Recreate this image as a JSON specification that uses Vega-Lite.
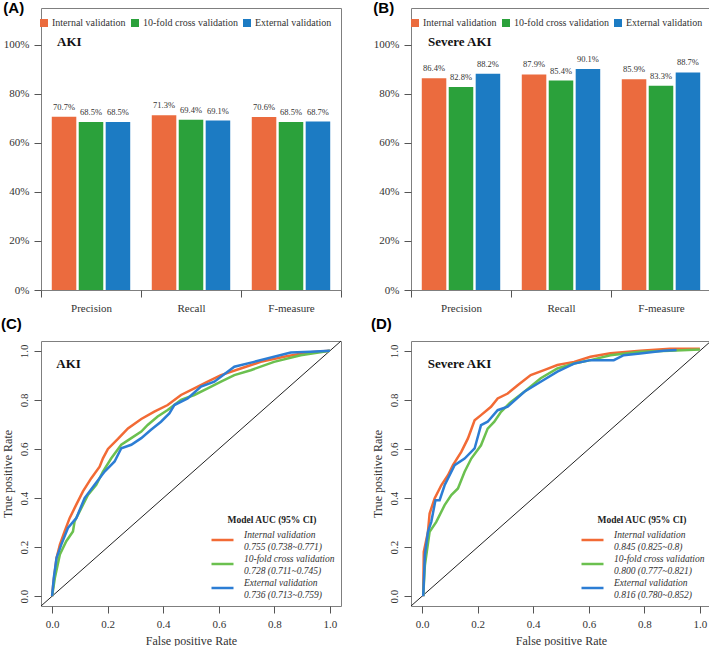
{
  "$schema": "https://vega.github.io/schema/vega-lite/v6.json",
  "padding": {"left": 0, "top": 0, "right": 0, "bottom": 0},
  "background": "white",
  "config": {
    "font": "Liberation Serif",
    "view": {"stroke": "#7f7f7f", "strokeWidth": 1},
    "axis": {"labelFont": "Liberation Serif", "titleFont": "Liberation Serif", "labelColor": "#333333", "titleColor": "#333333", "tickColor": "#555555", "grid": false, "tickSize": 7, "labelFontSize": 11, "titleFontWeight": "normal", "domain": false, "labelFlush": false, "labelOverlap": false},
    "title": {"font": "Liberation Sans", "fontWeight": "bold", "fontSize": 15, "anchor": "start", "frame": "bounds", "color": "#000000"}
  },
  "datasets": {
    "bars": [
      {"panel": "AKI", "metric": "Precision", "series": "Internal validation", "value": 0.707},
      {"panel": "AKI", "metric": "Precision", "series": "10-fold cross validation", "value": 0.685},
      {"panel": "AKI", "metric": "Precision", "series": "External validation", "value": 0.685},
      {"panel": "AKI", "metric": "Recall", "series": "Internal validation", "value": 0.713},
      {"panel": "AKI", "metric": "Recall", "series": "10-fold cross validation", "value": 0.694},
      {"panel": "AKI", "metric": "Recall", "series": "External validation", "value": 0.691},
      {"panel": "AKI", "metric": "F-measure", "series": "Internal validation", "value": 0.706},
      {"panel": "AKI", "metric": "F-measure", "series": "10-fold cross validation", "value": 0.685},
      {"panel": "AKI", "metric": "F-measure", "series": "External validation", "value": 0.687},
      {"panel": "Severe AKI", "metric": "Precision", "series": "Internal validation", "value": 0.864},
      {"panel": "Severe AKI", "metric": "Precision", "series": "10-fold cross validation", "value": 0.828},
      {"panel": "Severe AKI", "metric": "Precision", "series": "External validation", "value": 0.882},
      {"panel": "Severe AKI", "metric": "Recall", "series": "Internal validation", "value": 0.879},
      {"panel": "Severe AKI", "metric": "Recall", "series": "10-fold cross validation", "value": 0.854},
      {"panel": "Severe AKI", "metric": "Recall", "series": "External validation", "value": 0.901},
      {"panel": "Severe AKI", "metric": "F-measure", "series": "Internal validation", "value": 0.859},
      {"panel": "Severe AKI", "metric": "F-measure", "series": "10-fold cross validation", "value": 0.833},
      {"panel": "Severe AKI", "metric": "F-measure", "series": "External validation", "value": 0.887}
    ],
    "rocC": [
      {"s": "Internal validation|0.755 (0.738~0.771)", "fpr": 0, "tpr": 0},
      {"s": "Internal validation|0.755 (0.738~0.771)", "fpr": 0.004, "tpr": 0.047},
      {"s": "Internal validation|0.755 (0.738~0.771)", "fpr": 0.016, "tpr": 0.156},
      {"s": "Internal validation|0.755 (0.738~0.771)", "fpr": 0.028, "tpr": 0.21},
      {"s": "Internal validation|0.755 (0.738~0.771)", "fpr": 0.045, "tpr": 0.264},
      {"s": "Internal validation|0.755 (0.738~0.771)", "fpr": 0.063, "tpr": 0.318},
      {"s": "Internal validation|0.755 (0.738~0.771)", "fpr": 0.087, "tpr": 0.373},
      {"s": "Internal validation|0.755 (0.738~0.771)", "fpr": 0.111, "tpr": 0.427},
      {"s": "Internal validation|0.755 (0.738~0.771)", "fpr": 0.141, "tpr": 0.481},
      {"s": "Internal validation|0.755 (0.738~0.771)", "fpr": 0.171, "tpr": 0.528},
      {"s": "Internal validation|0.755 (0.738~0.771)", "fpr": 0.183, "tpr": 0.562},
      {"s": "Internal validation|0.755 (0.738~0.771)", "fpr": 0.201, "tpr": 0.6},
      {"s": "Internal validation|0.755 (0.738~0.771)", "fpr": 0.237, "tpr": 0.641},
      {"s": "Internal validation|0.755 (0.738~0.771)", "fpr": 0.273, "tpr": 0.684},
      {"s": "Internal validation|0.755 (0.738~0.771)", "fpr": 0.321, "tpr": 0.722},
      {"s": "Internal validation|0.755 (0.738~0.771)", "fpr": 0.368, "tpr": 0.752},
      {"s": "Internal validation|0.755 (0.738~0.771)", "fpr": 0.416, "tpr": 0.779},
      {"s": "Internal validation|0.755 (0.738~0.771)", "fpr": 0.464, "tpr": 0.82},
      {"s": "Internal validation|0.755 (0.738~0.771)", "fpr": 0.512, "tpr": 0.847},
      {"s": "Internal validation|0.755 (0.738~0.771)", "fpr": 0.56, "tpr": 0.874},
      {"s": "Internal validation|0.755 (0.738~0.771)", "fpr": 0.608, "tpr": 0.901},
      {"s": "Internal validation|0.755 (0.738~0.771)", "fpr": 0.679, "tpr": 0.928},
      {"s": "Internal validation|0.755 (0.738~0.771)", "fpr": 0.751, "tpr": 0.955},
      {"s": "Internal validation|0.755 (0.738~0.771)", "fpr": 0.835, "tpr": 0.976},
      {"s": "Internal validation|0.755 (0.738~0.771)", "fpr": 0.919, "tpr": 0.993},
      {"s": "Internal validation|0.755 (0.738~0.771)", "fpr": 1, "tpr": 1},
      {"s": "10-fold cross validation|0.728 (0.711~0.745)", "fpr": 0, "tpr": 0},
      {"s": "10-fold cross validation|0.728 (0.711~0.745)", "fpr": 0.01, "tpr": 0.075},
      {"s": "10-fold cross validation|0.728 (0.711~0.745)", "fpr": 0.028, "tpr": 0.17},
      {"s": "10-fold cross validation|0.728 (0.711~0.745)", "fpr": 0.051, "tpr": 0.224},
      {"s": "10-fold cross validation|0.728 (0.711~0.745)", "fpr": 0.075, "tpr": 0.264},
      {"s": "10-fold cross validation|0.728 (0.711~0.745)", "fpr": 0.081, "tpr": 0.305},
      {"s": "10-fold cross validation|0.728 (0.711~0.745)", "fpr": 0.105, "tpr": 0.359},
      {"s": "10-fold cross validation|0.728 (0.711~0.745)", "fpr": 0.129, "tpr": 0.413},
      {"s": "10-fold cross validation|0.728 (0.711~0.745)", "fpr": 0.159, "tpr": 0.454},
      {"s": "10-fold cross validation|0.728 (0.711~0.745)", "fpr": 0.183, "tpr": 0.508},
      {"s": "10-fold cross validation|0.728 (0.711~0.745)", "fpr": 0.213, "tpr": 0.562},
      {"s": "10-fold cross validation|0.728 (0.711~0.745)", "fpr": 0.249, "tpr": 0.617},
      {"s": "10-fold cross validation|0.728 (0.711~0.745)", "fpr": 0.285, "tpr": 0.644},
      {"s": "10-fold cross validation|0.728 (0.711~0.745)", "fpr": 0.321, "tpr": 0.671},
      {"s": "10-fold cross validation|0.728 (0.711~0.745)", "fpr": 0.344, "tpr": 0.698},
      {"s": "10-fold cross validation|0.728 (0.711~0.745)", "fpr": 0.38, "tpr": 0.732},
      {"s": "10-fold cross validation|0.728 (0.711~0.745)", "fpr": 0.416, "tpr": 0.759},
      {"s": "10-fold cross validation|0.728 (0.711~0.745)", "fpr": 0.464, "tpr": 0.8},
      {"s": "10-fold cross validation|0.728 (0.711~0.745)", "fpr": 0.512, "tpr": 0.82},
      {"s": "10-fold cross validation|0.728 (0.711~0.745)", "fpr": 0.56, "tpr": 0.847},
      {"s": "10-fold cross validation|0.728 (0.711~0.745)", "fpr": 0.608, "tpr": 0.874},
      {"s": "10-fold cross validation|0.728 (0.711~0.745)", "fpr": 0.656, "tpr": 0.901},
      {"s": "10-fold cross validation|0.728 (0.711~0.745)", "fpr": 0.715, "tpr": 0.921},
      {"s": "10-fold cross validation|0.728 (0.711~0.745)", "fpr": 0.799, "tpr": 0.955},
      {"s": "10-fold cross validation|0.728 (0.711~0.745)", "fpr": 0.895, "tpr": 0.982},
      {"s": "10-fold cross validation|0.728 (0.711~0.745)", "fpr": 1, "tpr": 1},
      {"s": "External validation|0.736 (0.713~0.759)", "fpr": 0, "tpr": 0},
      {"s": "External validation|0.736 (0.713~0.759)", "fpr": 0.006, "tpr": 0.075},
      {"s": "External validation|0.736 (0.713~0.759)", "fpr": 0.016, "tpr": 0.156},
      {"s": "External validation|0.736 (0.713~0.759)", "fpr": 0.033, "tpr": 0.21},
      {"s": "External validation|0.736 (0.713~0.759)", "fpr": 0.057, "tpr": 0.278},
      {"s": "External validation|0.736 (0.713~0.759)", "fpr": 0.087, "tpr": 0.318},
      {"s": "External validation|0.736 (0.713~0.759)", "fpr": 0.117, "tpr": 0.4},
      {"s": "External validation|0.736 (0.713~0.759)", "fpr": 0.153, "tpr": 0.454},
      {"s": "External validation|0.736 (0.713~0.759)", "fpr": 0.189, "tpr": 0.508},
      {"s": "External validation|0.736 (0.713~0.759)", "fpr": 0.225, "tpr": 0.549},
      {"s": "External validation|0.736 (0.713~0.759)", "fpr": 0.249, "tpr": 0.603},
      {"s": "External validation|0.736 (0.713~0.759)", "fpr": 0.285, "tpr": 0.617},
      {"s": "External validation|0.736 (0.713~0.759)", "fpr": 0.321, "tpr": 0.644},
      {"s": "External validation|0.736 (0.713~0.759)", "fpr": 0.356, "tpr": 0.678},
      {"s": "External validation|0.736 (0.713~0.759)", "fpr": 0.392, "tpr": 0.711},
      {"s": "External validation|0.736 (0.713~0.759)", "fpr": 0.422, "tpr": 0.745},
      {"s": "External validation|0.736 (0.713~0.759)", "fpr": 0.44, "tpr": 0.779},
      {"s": "External validation|0.736 (0.713~0.759)", "fpr": 0.488, "tpr": 0.806},
      {"s": "External validation|0.736 (0.713~0.759)", "fpr": 0.536, "tpr": 0.854},
      {"s": "External validation|0.736 (0.713~0.759)", "fpr": 0.584, "tpr": 0.874},
      {"s": "External validation|0.736 (0.713~0.759)", "fpr": 0.656, "tpr": 0.935},
      {"s": "External validation|0.736 (0.713~0.759)", "fpr": 0.727, "tpr": 0.955},
      {"s": "External validation|0.736 (0.713~0.759)", "fpr": 0.799, "tpr": 0.976},
      {"s": "External validation|0.736 (0.713~0.759)", "fpr": 0.859, "tpr": 0.993},
      {"s": "External validation|0.736 (0.713~0.759)", "fpr": 0.931, "tpr": 0.996},
      {"s": "External validation|0.736 (0.713~0.759)", "fpr": 1, "tpr": 1}
    ],
    "rocD": [
      {"s": "Internal validation|0.845 (0.825~0.8)", "fpr": 0.004, "tpr": 0},
      {"s": "Internal validation|0.845 (0.825~0.8)", "fpr": 0.006, "tpr": 0.181},
      {"s": "Internal validation|0.845 (0.825~0.8)", "fpr": 0.021, "tpr": 0.262},
      {"s": "Internal validation|0.845 (0.825~0.8)", "fpr": 0.027, "tpr": 0.337},
      {"s": "Internal validation|0.845 (0.825~0.8)", "fpr": 0.045, "tpr": 0.398},
      {"s": "Internal validation|0.845 (0.825~0.8)", "fpr": 0.069, "tpr": 0.452},
      {"s": "Internal validation|0.845 (0.825~0.8)", "fpr": 0.093, "tpr": 0.493},
      {"s": "Internal validation|0.845 (0.825~0.8)", "fpr": 0.111, "tpr": 0.534},
      {"s": "Internal validation|0.845 (0.825~0.8)", "fpr": 0.141, "tpr": 0.588},
      {"s": "Internal validation|0.845 (0.825~0.8)", "fpr": 0.165, "tpr": 0.643},
      {"s": "Internal validation|0.845 (0.825~0.8)", "fpr": 0.189, "tpr": 0.717},
      {"s": "Internal validation|0.845 (0.825~0.8)", "fpr": 0.212, "tpr": 0.738},
      {"s": "Internal validation|0.845 (0.825~0.8)", "fpr": 0.248, "tpr": 0.772},
      {"s": "Internal validation|0.845 (0.825~0.8)", "fpr": 0.272, "tpr": 0.806},
      {"s": "Internal validation|0.845 (0.825~0.8)", "fpr": 0.308, "tpr": 0.826},
      {"s": "Internal validation|0.845 (0.825~0.8)", "fpr": 0.344, "tpr": 0.86},
      {"s": "Internal validation|0.845 (0.825~0.8)", "fpr": 0.391, "tpr": 0.901},
      {"s": "Internal validation|0.845 (0.825~0.8)", "fpr": 0.439, "tpr": 0.921},
      {"s": "Internal validation|0.845 (0.825~0.8)", "fpr": 0.487, "tpr": 0.942},
      {"s": "Internal validation|0.845 (0.825~0.8)", "fpr": 0.547, "tpr": 0.955},
      {"s": "Internal validation|0.845 (0.825~0.8)", "fpr": 0.606, "tpr": 0.976},
      {"s": "Internal validation|0.845 (0.825~0.8)", "fpr": 0.678, "tpr": 0.99},
      {"s": "Internal validation|0.845 (0.825~0.8)", "fpr": 0.785, "tpr": 1.0},
      {"s": "Internal validation|0.845 (0.825~0.8)", "fpr": 0.893, "tpr": 1.008},
      {"s": "Internal validation|0.845 (0.825~0.8)", "fpr": 1, "tpr": 1.008},
      {"s": "10-fold cross validation|0.800 (0.777~0.821)", "fpr": 0.004, "tpr": 0},
      {"s": "10-fold cross validation|0.800 (0.777~0.821)", "fpr": 0.01, "tpr": 0.126},
      {"s": "10-fold cross validation|0.800 (0.777~0.821)", "fpr": 0.027, "tpr": 0.262},
      {"s": "10-fold cross validation|0.800 (0.777~0.821)", "fpr": 0.051, "tpr": 0.303},
      {"s": "10-fold cross validation|0.800 (0.777~0.821)", "fpr": 0.081, "tpr": 0.371},
      {"s": "10-fold cross validation|0.800 (0.777~0.821)", "fpr": 0.105, "tpr": 0.412},
      {"s": "10-fold cross validation|0.800 (0.777~0.821)", "fpr": 0.129, "tpr": 0.439},
      {"s": "10-fold cross validation|0.800 (0.777~0.821)", "fpr": 0.153, "tpr": 0.507},
      {"s": "10-fold cross validation|0.800 (0.777~0.821)", "fpr": 0.177, "tpr": 0.561},
      {"s": "10-fold cross validation|0.800 (0.777~0.821)", "fpr": 0.212, "tpr": 0.615},
      {"s": "10-fold cross validation|0.800 (0.777~0.821)", "fpr": 0.236, "tpr": 0.683},
      {"s": "10-fold cross validation|0.800 (0.777~0.821)", "fpr": 0.26, "tpr": 0.711},
      {"s": "10-fold cross validation|0.800 (0.777~0.821)", "fpr": 0.284, "tpr": 0.751},
      {"s": "10-fold cross validation|0.800 (0.777~0.821)", "fpr": 0.32, "tpr": 0.792},
      {"s": "10-fold cross validation|0.800 (0.777~0.821)", "fpr": 0.368, "tpr": 0.833},
      {"s": "10-fold cross validation|0.800 (0.777~0.821)", "fpr": 0.427, "tpr": 0.888},
      {"s": "10-fold cross validation|0.800 (0.777~0.821)", "fpr": 0.487, "tpr": 0.928},
      {"s": "10-fold cross validation|0.800 (0.777~0.821)", "fpr": 0.547, "tpr": 0.948},
      {"s": "10-fold cross validation|0.800 (0.777~0.821)", "fpr": 0.606, "tpr": 0.962},
      {"s": "10-fold cross validation|0.800 (0.777~0.821)", "fpr": 0.678, "tpr": 0.982},
      {"s": "10-fold cross validation|0.800 (0.777~0.821)", "fpr": 0.785, "tpr": 0.996},
      {"s": "10-fold cross validation|0.800 (0.777~0.821)", "fpr": 0.893, "tpr": 1.0},
      {"s": "10-fold cross validation|0.800 (0.777~0.821)", "fpr": 1, "tpr": 1.005},
      {"s": "External validation|0.816 (0.780~0.852)", "fpr": 0.004, "tpr": 0},
      {"s": "External validation|0.816 (0.780~0.852)", "fpr": 0.01, "tpr": 0.167},
      {"s": "External validation|0.816 (0.780~0.852)", "fpr": 0.021, "tpr": 0.262},
      {"s": "External validation|0.816 (0.780~0.852)", "fpr": 0.033, "tpr": 0.303},
      {"s": "External validation|0.816 (0.780~0.852)", "fpr": 0.048, "tpr": 0.391},
      {"s": "External validation|0.816 (0.780~0.852)", "fpr": 0.063, "tpr": 0.391},
      {"s": "External validation|0.816 (0.780~0.852)", "fpr": 0.081, "tpr": 0.452},
      {"s": "External validation|0.816 (0.780~0.852)", "fpr": 0.117, "tpr": 0.534},
      {"s": "External validation|0.816 (0.780~0.852)", "fpr": 0.153, "tpr": 0.561},
      {"s": "External validation|0.816 (0.780~0.852)", "fpr": 0.189, "tpr": 0.602},
      {"s": "External validation|0.816 (0.780~0.852)", "fpr": 0.212, "tpr": 0.697},
      {"s": "External validation|0.816 (0.780~0.852)", "fpr": 0.236, "tpr": 0.711},
      {"s": "External validation|0.816 (0.780~0.852)", "fpr": 0.272, "tpr": 0.758},
      {"s": "External validation|0.816 (0.780~0.852)", "fpr": 0.308, "tpr": 0.772},
      {"s": "External validation|0.816 (0.780~0.852)", "fpr": 0.368, "tpr": 0.833},
      {"s": "External validation|0.816 (0.780~0.852)", "fpr": 0.427, "tpr": 0.874},
      {"s": "External validation|0.816 (0.780~0.852)", "fpr": 0.487, "tpr": 0.915},
      {"s": "External validation|0.816 (0.780~0.852)", "fpr": 0.547, "tpr": 0.948},
      {"s": "External validation|0.816 (0.780~0.852)", "fpr": 0.606, "tpr": 0.962},
      {"s": "External validation|0.816 (0.780~0.852)", "fpr": 0.69, "tpr": 0.962},
      {"s": "External validation|0.816 (0.780~0.852)", "fpr": 0.726, "tpr": 0.982},
      {"s": "External validation|0.816 (0.780~0.852)", "fpr": 0.785, "tpr": 0.989},
      {"s": "External validation|0.816 (0.780~0.852)", "fpr": 0.869, "tpr": 1.0},
      {"s": "External validation|0.816 (0.780~0.852)", "fpr": 0.916, "tpr": 1.003}
    ]
  },
  "columns": 2,
  "spacing": {"row": 2, "column": 28},
  "resolve": {"scale": {"color": "independent", "x": "independent", "y": "independent"}, "legend": {"color": "independent"}},
  "concat": [
    {
      "title": {"text": "(A)", "offset": -8},
      "width": 300, "height": 282,
      "data": {"name": "bars"},
      "transform": [{"filter": "datum.panel == 'AKI'"}],
      "layer": [
        {
          "mark": {"type": "bar"},
          "encoding": {
            "x": {"field": "metric", "type": "nominal", "sort": ["Precision", "Recall", "F-measure"], "scale": {"paddingInner": 0, "paddingOuter": 0}, "axis": {"title": null, "labelAngle": 0, "tickBand": "extent", "labelPadding": 5}},
            "xOffset": {"field": "series", "type": "nominal", "sort": ["Internal validation", "10-fold cross validation", "External validation"], "scale": {"paddingInner": 0.09, "paddingOuter": 0.4}},
            "y": {"field": "value", "type": "quantitative", "scale": {"domain": [0, 1.15], "nice": false}, "axis": {"title": null, "values": [0, 0.2, 0.4, 0.6, 0.8, 1], "format": ".0%", "labelPadding": 5}},
            "color": {"field": "series", "type": "nominal", "scale": {"domain": ["Internal validation", "10-fold cross validation", "External validation"], "range": ["#EB6B3E", "#2BA13B", "#1C7BC3"]},
              "legend": {"orient": "none", "legendX": -2, "legendY": 10, "direction": "horizontal", "title": null, "symbolType": "square", "symbolSize": 64, "symbolStrokeWidth": 0, "labelFont": "Liberation Serif", "labelFontSize": 10, "labelColor": "#333333", "labelOffset": 3, "columnPadding": 4}}
          }
        },
        {
          "mark": {"type": "text", "baseline": "bottom", "dy": -5, "fontSize": 8.5, "color": "#333333"},
          "encoding": {
            "x": {"field": "metric", "type": "nominal", "sort": ["Precision", "Recall", "F-measure"]},
            "xOffset": {"field": "series", "type": "nominal", "sort": ["Internal validation", "10-fold cross validation", "External validation"]},
            "y": {"field": "value", "type": "quantitative"},
            "text": {"field": "value", "type": "quantitative", "format": ".1%"}
          }
        },
        {
          "data": {"values": [{}]},
          "mark": {"type": "text", "text": "AKI", "fontWeight": "bold", "fontSize": 13, "align": "left", "baseline": "middle", "dx": 16, "color": "#111111"},
          "encoding": {
            "x": {"datum": "Precision", "type": "nominal", "bandPosition": 0},
            "y": {"datum": 1.01, "type": "quantitative"}
          }
        }
      ]
    },
    {
      "title": {"text": "(B)", "offset": -8},
      "width": 300, "height": 282,
      "data": {"name": "bars"},
      "transform": [{"filter": "datum.panel == 'Severe AKI'"}],
      "layer": [
        {
          "mark": {"type": "bar"},
          "encoding": {
            "x": {"field": "metric", "type": "nominal", "sort": ["Precision", "Recall", "F-measure"], "scale": {"paddingInner": 0, "paddingOuter": 0}, "axis": {"title": null, "labelAngle": 0, "tickBand": "extent", "labelPadding": 5}},
            "xOffset": {"field": "series", "type": "nominal", "sort": ["Internal validation", "10-fold cross validation", "External validation"], "scale": {"paddingInner": 0.09, "paddingOuter": 0.4}},
            "y": {"field": "value", "type": "quantitative", "scale": {"domain": [0, 1.15], "nice": false}, "axis": {"title": null, "values": [0, 0.2, 0.4, 0.6, 0.8, 1], "format": ".0%", "labelPadding": 5}},
            "color": {"field": "series", "type": "nominal", "scale": {"domain": ["Internal validation", "10-fold cross validation", "External validation"], "range": ["#EB6B3E", "#2BA13B", "#1C7BC3"]},
              "legend": {"orient": "none", "legendX": -1, "legendY": 10, "direction": "horizontal", "title": null, "symbolType": "square", "symbolSize": 64, "symbolStrokeWidth": 0, "labelFont": "Liberation Serif", "labelFontSize": 10, "labelColor": "#333333", "labelOffset": 3, "columnPadding": 4}}
          }
        },
        {
          "mark": {"type": "text", "baseline": "bottom", "dy": -5, "fontSize": 8.5, "color": "#333333"},
          "encoding": {
            "x": {"field": "metric", "type": "nominal", "sort": ["Precision", "Recall", "F-measure"]},
            "xOffset": {"field": "series", "type": "nominal", "sort": ["Internal validation", "10-fold cross validation", "External validation"]},
            "y": {"field": "value", "type": "quantitative"},
            "text": {"field": "value", "type": "quantitative", "format": ".1%"}
          }
        },
        {
          "data": {"values": [{}]},
          "mark": {"type": "text", "text": "Severe AKI", "fontWeight": "bold", "fontSize": 13, "align": "left", "baseline": "middle", "dx": 17, "color": "#111111"},
          "encoding": {
            "x": {"datum": "Precision", "type": "nominal", "bandPosition": 0},
            "y": {"datum": 1.01, "type": "quantitative"}
          }
        }
      ]
    },
    {
      "title": {"text": "(C)", "offset": 9},
      "width": 300, "height": 265,
      "layer": [
        {
          "data": {"values": [{}]},
          "mark": {"type": "rule", "color": "#222222", "strokeWidth": 1},
          "encoding": {
            "x": {"datum": -0.04, "type": "quantitative", "scale": {"domain": [-0.04, 1.04], "nice": false, "zero": false}},
            "y": {"datum": -0.04, "type": "quantitative", "scale": {"domain": [-0.04, 1.04], "nice": false, "zero": false}},
            "x2": {"datum": 1.04},
            "y2": {"datum": 1.04}
          }
        },
        {
          "data": {"name": "rocC"},
          "mark": {"type": "line", "strokeWidth": 2.5, "clip": true},
          "encoding": {
            "x": {"field": "fpr", "type": "quantitative", "scale": {"domain": [-0.04, 1.04], "nice": false, "zero": false}, "axis": {"title": "False positive Rate", "values": [0, 0.2, 0.4, 0.6, 0.8, 1], "format": ".1f", "labelPadding": 5, "titlePadding": 6, "titleFontSize": 12}},
            "y": {"field": "tpr", "type": "quantitative", "scale": {"domain": [-0.04, 1.04], "nice": false, "zero": false}, "axis": {"title": "True positive Rate", "values": [0, 0.2, 0.4, 0.6, 0.8, 1], "format": ".1f", "labelAngle": -90, "labelAlign": "center", "labelBaseline": "bottom", "labelPadding": 5, "titlePadding": 4, "titleFontSize": 12}},
            "color": {"field": "s", "type": "nominal", "sort": null, "scale": {"domain": ["Internal validation|0.755 (0.738~0.771)", "10-fold cross validation|0.728 (0.711~0.745)", "External validation|0.736 (0.713~0.759)"], "range": ["#F26A35", "#6BC04F", "#2C7DD4"]},
              "legend": {"orient": "none", "legendX": 169, "legendY": 174, "title": "Model AUC (95% CI)", "titleFont": "Liberation Serif", "titleFontWeight": "bold", "titleFontSize": 9.5, "titleColor": "#222222", "titleAnchor": "middle", "titlePadding": 3, "labelFont": "Liberation Serif", "labelFontStyle": "italic", "labelFontSize": 9.5, "labelColor": "#333333", "labelBaseline": "bottom", "labelExpr": "split(datum.label, '|')", "symbolType": "stroke", "symbolSize": 484, "symbolStrokeWidth": 2.5, "labelOffset": 9, "rowPadding": -2}}
          }
        },
        {
          "data": {"values": [{}]},
          "mark": {"type": "text", "text": "AKI", "fontWeight": "bold", "fontSize": 13, "align": "left", "baseline": "middle", "color": "#111111"},
          "encoding": {
            "x": {"datum": 0.015, "type": "quantitative"},
            "y": {"datum": 0.945, "type": "quantitative"}
          }
        }
      ]
    },
    {
      "title": {"text": "(D)", "offset": 9},
      "width": 300, "height": 265,
      "layer": [
        {
          "data": {"values": [{}]},
          "mark": {"type": "rule", "color": "#222222", "strokeWidth": 1},
          "encoding": {
            "x": {"datum": -0.04, "type": "quantitative", "scale": {"domain": [-0.04, 1.04], "nice": false, "zero": false}},
            "y": {"datum": -0.04, "type": "quantitative", "scale": {"domain": [-0.04, 1.04], "nice": false, "zero": false}},
            "x2": {"datum": 1.04},
            "y2": {"datum": 1.04}
          }
        },
        {
          "data": {"name": "rocD"},
          "mark": {"type": "line", "strokeWidth": 2.5, "clip": true},
          "encoding": {
            "x": {"field": "fpr", "type": "quantitative", "scale": {"domain": [-0.04, 1.04], "nice": false, "zero": false}, "axis": {"title": "False positive Rate", "values": [0, 0.2, 0.4, 0.6, 0.8, 1], "format": ".1f", "labelPadding": 5, "titlePadding": 6, "titleFontSize": 12}},
            "y": {"field": "tpr", "type": "quantitative", "scale": {"domain": [-0.04, 1.04], "nice": false, "zero": false}, "axis": {"title": "True positive Rate", "values": [0, 0.2, 0.4, 0.6, 0.8, 1], "format": ".1f", "labelAngle": -90, "labelAlign": "center", "labelBaseline": "bottom", "labelPadding": 5, "titlePadding": 4, "titleFontSize": 12}},
            "color": {"field": "s", "type": "nominal", "sort": null, "scale": {"domain": ["Internal validation|0.845 (0.825~0.8)", "10-fold cross validation|0.800 (0.777~0.821)", "External validation|0.816 (0.780~0.852)"], "range": ["#F26A35", "#6BC04F", "#2C7DD4"]},
              "legend": {"orient": "none", "legendX": 169, "legendY": 174, "title": "Model AUC (95% CI)", "titleFont": "Liberation Serif", "titleFontWeight": "bold", "titleFontSize": 9.5, "titleColor": "#222222", "titleAnchor": "middle", "titlePadding": 3, "labelFont": "Liberation Serif", "labelFontStyle": "italic", "labelFontSize": 9.5, "labelColor": "#333333", "labelBaseline": "bottom", "labelExpr": "split(datum.label, '|')", "symbolType": "stroke", "symbolSize": 484, "symbolStrokeWidth": 2.5, "labelOffset": 9, "rowPadding": -2}}
          }
        },
        {
          "data": {"values": [{}]},
          "mark": {"type": "text", "text": "Severe AKI", "fontWeight": "bold", "fontSize": 13, "align": "left", "baseline": "middle", "color": "#111111"},
          "encoding": {
            "x": {"datum": 0.02, "type": "quantitative"},
            "y": {"datum": 0.945, "type": "quantitative"}
          }
        }
      ]
    }
  ]
}
